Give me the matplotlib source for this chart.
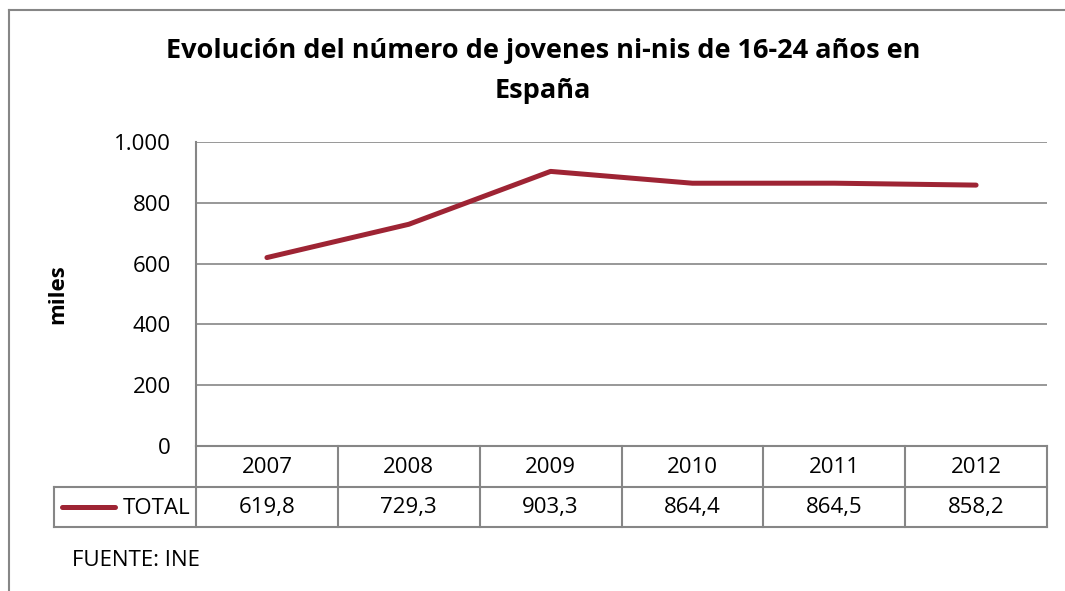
import matplotlib
matplotlib.use("Agg")
import matplotlib.pyplot as plt
from matplotlib.ticker import FuncFormatter

years = ["2007", "2008", "2009", "2010", "2011", "2012"]
total = [619.8, 729.3, 903.3, 864.4, 864.5, 858.2]
series_name = "TOTAL"
yticks = [0, 200, 400, 600, 800, 1000]
title = "Evolución del número de jovenes ni-nis de 16-24 años en\nEspaña"
ylabel = "miles"
source = "FUENTE: INE"

W, H = 1065, 591
FONT = ["Open Sans", "DejaVu Sans"]
plt.rcParams['font.family'] = FONT
LINE_C = "#9E2434"
GRID_C = "#868686"
FS = 16

fig = plt.figure(figsize=(W / 100, H / 100), dpi=100)

def fx(px):
    return px / W

def fy(py):
    return (H - py) / H

L, R, T, B = 196, 1047, 142, 446
ax = fig.add_axes([fx(L), fy(B), fx(R) - fx(L), fy(T) - fy(B)])

x = list(range(len(years)))
ax.plot(x, total, color=LINE_C, lw=3.6, solid_capstyle="round", solid_joinstyle="round", zorder=3)
ax.set_xlim(-0.5, len(years) - 0.5)
ax.set_ylim(0, 1000)
ax.set_yticks(yticks)
ax.yaxis.set_major_formatter(FuncFormatter(lambda v, p: f"{int(v):,}".replace(",", ".")))
ax.set_xticks([])
ax.grid(axis="y", color=GRID_C, lw=1.2)
ax.set_axisbelow(True)
for s in ["top", "right", "bottom"]:
    ax.spines[s].set_visible(False)
ax.spines["left"].set_color(GRID_C)
ax.spines["left"].set_linewidth(1.5)
ax.tick_params(axis="y", length=0, pad=18, labelsize=FS, labelcolor="black")
ax.set_ylabel(ylabel, fontsize=16, fontweight="bold")
ax.yaxis.set_label_coords((58 - L) / (R - L), 0.5)
ax.yaxis.label.set_va("center")

# title
fig.text(fx(543), fy(71), title, ha="center", va="center", fontsize=19.5,
         fontweight="bold", linespacing=1.75)

# data table below the axes
tf = fig.transFigure
row_top, row_mid, row_bot = 446, 487, 527
tbl_left = 54
lkw = dict(color=GRID_C, lw=1.5, transform=tf, clip_on=False)
fig.add_artist(plt.Line2D([fx(L), fx(R)], [fy(row_top), fy(row_top)], **lkw))
fig.add_artist(plt.Line2D([fx(tbl_left), fx(R)], [fy(row_mid), fy(row_mid)], **lkw))
fig.add_artist(plt.Line2D([fx(tbl_left), fx(R)], [fy(row_bot), fy(row_bot)], **lkw))
fig.add_artist(plt.Line2D([fx(tbl_left), fx(tbl_left)], [fy(row_mid), fy(row_bot)], **lkw))
for i in range(len(years) + 1):
    xb = ax.transData.transform((i - 0.5, 0))[0]
    xf = tf.inverted().transform((xb, 0))[0]
    fig.add_artist(plt.Line2D([xf, xf], [fy(row_top), fy(row_bot)], **lkw))
for i, (yr, v) in enumerate(zip(years, total)):
    xc = tf.inverted().transform((ax.transData.transform((i, 0))[0], 0))[0]
    fig.text(xc, fy((row_top + row_mid) / 2 + 1), yr, ha="center", va="center", fontsize=FS)
    fig.text(xc, fy((row_mid + row_bot) / 2 + 1), f"{v:.1f}".replace(".", ","),
             ha="center", va="center", fontsize=FS)
ky = fy((row_mid + row_bot) / 2)
fig.add_artist(plt.Line2D([fx(62), fx(115)], [ky, ky], color=LINE_C, lw=3.6,
                          solid_capstyle="round", transform=tf))
fig.text(fx(190), fy((row_mid + row_bot) / 2 + 1), series_name, ha="right", va="center", fontsize=FS)

# source
fig.text(fx(72), fy(560), source, ha="left", va="center", fontsize=16)

# outer frame
fkw = dict(color=GRID_C, lw=1.5, transform=tf, clip_on=False)
fig.add_artist(plt.Line2D([fx(9), fx(9)], [fy(10), 0], **fkw))
fig.add_artist(plt.Line2D([fx(9), 1], [fy(10), fy(10)], **fkw))

fig.savefig("out.png", dpi=100)
